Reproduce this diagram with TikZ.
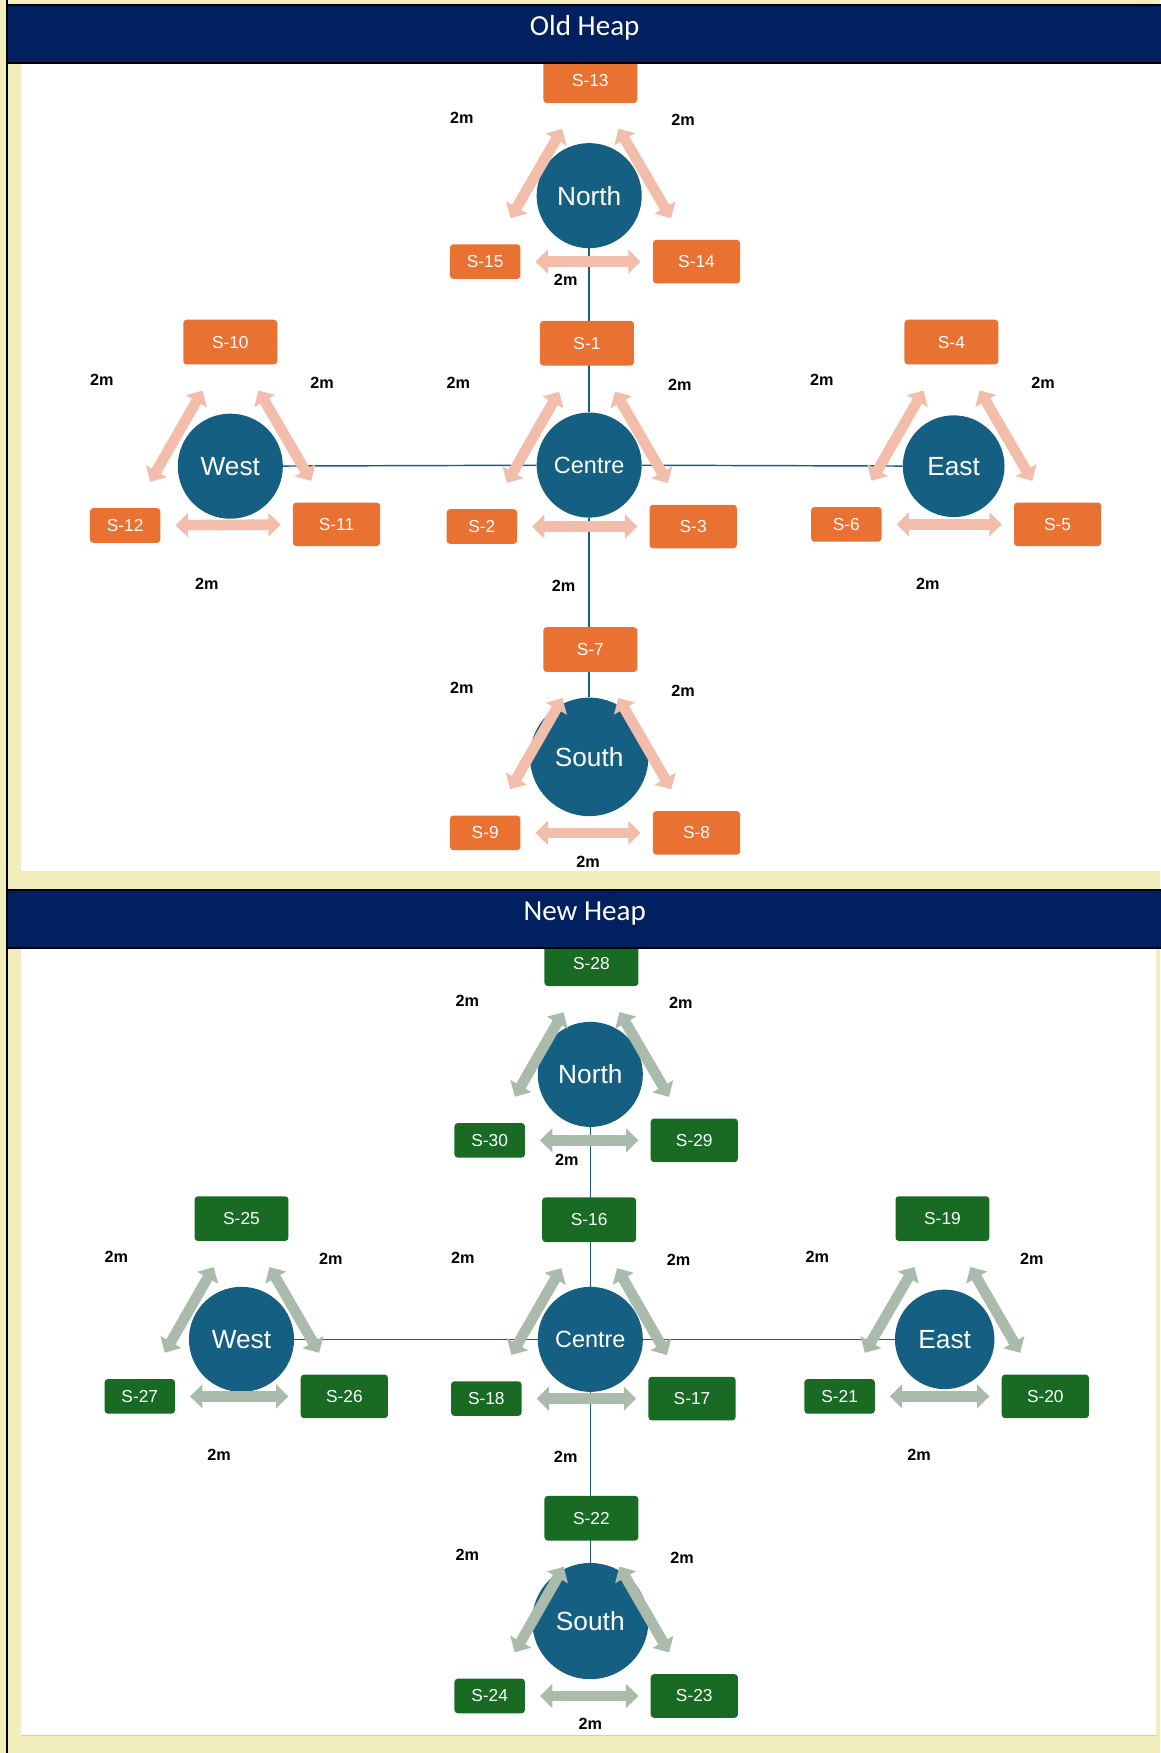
\documentclass[tikz,border=0pt]{standalone}
\usepackage{fontspec}
\setmainfont{Liberation Sans}
\newfontfamily\headfont{Carlito}
\usepackage{xcolor}
\usetikzlibrary{positioning, arrows.meta, backgrounds}

\definecolor{heapblue}{HTML}{156082}
\definecolor{oldorange}{HTML}{E97132}
\definecolor{newgreen}{HTML}{196B24}
\definecolor{oldpink}{RGB}{243,189,172}
\definecolor{newsage}{RGB}{171,187,171}
\definecolor{bannerblue}{HTML}{002060}
\definecolor{paper}{RGB}{241,238,188}

\tikzset{
  heap/.style={circle, fill=heapblue, text=white, minimum size=94pt, inner sep=0pt,
    font=\fontsize{23.5}{25}\selectfont},
  site/.style={rounded corners=3pt, text=white, inner sep=0pt,
    font=\fontsize{15.5}{17}\selectfont},
  topsite/.style={site, minimum width=84pt, minimum height=40pt},
  leftsite/.style={site, minimum width=63pt, minimum height=31pt},
  rightsite/.style={site, minimum width=78pt, minimum height=39pt},
  oldsite/.style={fill=oldorange},
  newsite/.style={fill=newgreen},
  dist/.style={font=\bfseries\fontsize{14.5}{16}\selectfont},
  heaplink/.style={draw=heapblue, line width=1.3pt},
  spanarrow/.style={line width=9.5pt,
    {Triangle[width=21pt,length=11pt]}-{Triangle[width=21pt,length=11pt]},
    shorten <=45pt, shorten >=50pt},
  banner/.style={fill=bannerblue, draw=black, line width=1.8pt},
}

\begin{document}
\begin{tikzpicture}[x=1pt,y=-1pt]
        \useasboundingbox (0,0) rectangle (1038,1568);

        % ==========================================
        % Old Heap: heaps
        % ==========================================
        \node[heap] (north1) at (527,175) {North};
        \node[heap, font=\fontsize{21}{22}\selectfont] (centre1) at (527,416) {Centre};
        \node[heap] (west1) at (206,417) {West};
        \node[heap, minimum size=91pt] (east1) at (853,417) {East};
        \node[heap, minimum size=106pt] (south1) at (527,677) {South};

        % ==========================================
        % Old Heap: sites
        % ==========================================
        \node[topsite, oldsite] (s13) at (528,72) {S-13};
        \node[leftsite, oldsite] (s15) at (434,234) {S-15};
        \node[rightsite, oldsite] (s14) at (623,234) {S-14};

        \node[topsite, oldsite] (s1) at (525,307) {S-1};
        \node[leftsite, oldsite] (s2) at (431,471) {S-2};
        \node[rightsite, oldsite] (s3) at (620,471) {S-3};

        \node[topsite, oldsite] (s10) at (206,306) {S-10};
        \node[leftsite, oldsite] (s12) at (112,470) {S-12};
        \node[rightsite, oldsite] (s11) at (301,469) {S-11};

        \node[topsite, oldsite] (s4) at (851,306) {S-4};
        \node[leftsite, oldsite] (s6) at (757,469) {S-6};
        \node[rightsite, oldsite] (s5) at (946,469) {S-5};

        \node[topsite, oldsite] (s7) at (528,581) {S-7};
        \node[leftsite, oldsite] (s9) at (434,745) {S-9};
        \node[rightsite, oldsite] (s8) at (623,745) {S-8};

        % ==========================================
        % New Heap: heaps
        % ==========================================
        \node[heap] (north2) at (528,961) {North};
        \node[heap, font=\fontsize{21}{22}\selectfont] (centre2) at (528,1198) {Centre};
        \node[heap] (west2) at (216,1198) {West};
        \node[heap, minimum size=89pt] (east2) at (845,1198) {East};
        \node[heap, minimum size=104pt] (south2) at (528,1450) {South};

        % ==========================================
        % New Heap: sites
        % ==========================================
        \node[topsite, newsite] (s28) at (529,862) {S-28};
        \node[leftsite, newsite] (s30) at (438,1020) {S-30};
        \node[rightsite, newsite] (s29) at (621,1020) {S-29};

        \node[topsite, newsite] (s16) at (527,1091) {S-16};
        \node[leftsite, newsite] (s18) at (435,1251) {S-18};
        \node[rightsite, newsite] (s17) at (619,1251) {S-17};

        \node[topsite, newsite] (s25) at (216,1090) {S-25};
        \node[leftsite, newsite] (s27) at (125,1249) {S-27};
        \node[rightsite, newsite] (s26) at (308,1249) {S-26};

        \node[topsite, newsite] (s19) at (843,1090) {S-19};
        \node[leftsite, newsite] (s21) at (751,1249) {S-21};
        \node[rightsite, newsite] (s20) at (935,1249) {S-20};

        \node[topsite, newsite] (s22) at (529,1358) {S-22};
        \node[leftsite, newsite] (s24) at (438,1517) {S-24};
        \node[rightsite, newsite] (s23) at (621,1517) {S-23};

        % ==========================================
        % 2m spans between the sites of each heap
        % ==========================================
        \foreach \l/\t/\r in {s15/s13/s14, s2/s1/s3, s12/s10/s11, s6/s4/s5, s9/s7/s8} {
            \draw[spanarrow, draw=oldpink] (\l.center) -- (\t.center);
            \draw[spanarrow, draw=oldpink] (\r.center) -- (\t.center);
            \draw[spanarrow, draw=oldpink] (\l.center) -- (\r.center);
        }
        \foreach \l/\t/\r in {s30/s28/s29, s18/s16/s17, s27/s25/s26, s21/s19/s20, s24/s22/s23} {
            \draw[spanarrow, draw=newsage] (\l.center) -- (\t.center);
            \draw[spanarrow, draw=newsage] (\r.center) -- (\t.center);
            \draw[spanarrow, draw=newsage] (\l.center) -- (\r.center);
        }

        % distance labels
        \foreach \p [count=\i] in {(413,105), (611,107), (506,250), (410,342), (608,344),
            (504,524), (91,340), (288,342), (185,522), (735,340), (933,342), (830,522),
            (413,615), (611,618), (526,771)}
            \node[dist] (olddist\i) at \p {2m};
        \foreach \p [count=\i] in {(418,895), (609,897), (507,1037), (414,1125), (607,1127),
            (506,1303), (104,1124), (296,1126), (196,1301), (731,1124), (923,1126), (822,1301),
            (418,1391), (610,1393), (528,1542)}
            \node[dist] (newdist\i) at \p {2m};

        % ==========================================
        % Panels and heap links (behind everything)
        % ==========================================
        \begin{scope}[on background layer]
            \fill[paper] (0,0) rectangle (1038,1568);
            \draw[line width=1.8pt] (6.3,0) -- (6.3,1568);
            \fill[white] (18.8,56) rectangle (1040,778.7);
            \fill[white] (18.8,847) rectangle (1033.6,1552);
            \draw[black!20, line width=1pt] (18.8,1552) -- (1033.6,1552);

            \draw[heaplink] (north1) -- (centre1);
            \draw[heaplink] (centre1) -- (south1);
            \draw[heaplink] (west1) -- (centre1);
            \draw[heaplink] (centre1) -- (east1);

            \draw[heaplink] (north2) -- (centre2);
            \draw[heaplink] (centre2) -- (south2);
            \draw[heaplink] (west2) -- (centre2);
            \draw[heaplink] (centre2) -- (east2);
        \end{scope}

        % ==========================================
        % Title banners
        % ==========================================
        \draw[banner] (6.3,4.5) rectangle (1045,56.3);
        \node[text=white, font=\headfont\fontsize{26}{28}\selectfont] (oldtitle) at (523,25) {Old Heap};

        \draw[banner] (6.3,795.7) rectangle (1045,847.6);
        \node[text=white, font=\headfont\fontsize{26}{28}\selectfont] (newtitle) at (523,817) {New Heap};

    \end{tikzpicture}
\end{document}
